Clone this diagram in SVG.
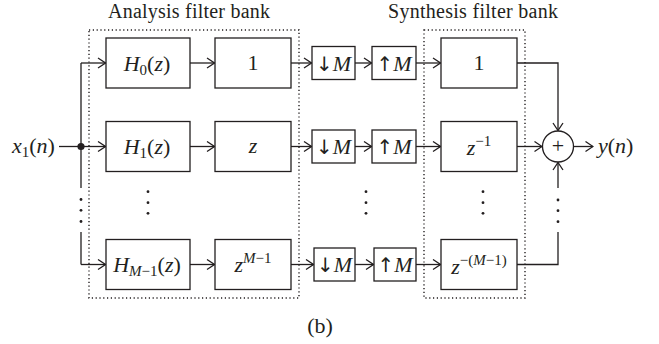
<svg xmlns="http://www.w3.org/2000/svg" width="659" height="344" viewBox="0 0 659 344">
<style>
.ln{fill:none;stroke:#231f20;stroke-width:1.3}
.bx{fill:#fff;stroke:#231f20;stroke-width:1.3}
.dt{fill:none;stroke:#231f20;stroke-width:1.4;stroke-dasharray:1.2 2.6}
.t{font-family:"Liberation Serif","DejaVu Serif",serif;font-size:22px;fill:#231f20}
.h{font-family:"Liberation Serif","DejaVu Serif",serif;font-size:20px;fill:#231f20;text-anchor:middle}
.m{font-family:"Liberation Serif","DejaVu Serif",serif;font-size:22px;fill:#231f20;text-anchor:middle}
.i{font-style:italic}
.s{font-size:15px}
.a{font-family:"DejaVu Sans",sans-serif;font-size:20px}
</style>
<defs>
<marker id="ar" markerUnits="userSpaceOnUse" viewBox="0 0 9 12" refX="8.5" refY="6" markerWidth="9" markerHeight="12" orient="auto">
<path d="M1,1 L8.5,6 L1,11" fill="none" stroke="#231f20" stroke-width="1.3"/>
</marker>
</defs>
<rect width="659" height="344" fill="#fff"/>
<text class="h" x="189" y="18" textLength="162">Analysis filter bank</text>
<text class="h" x="473" y="18" textLength="170">Synthesis filter bank</text>
<rect id="analysis-bank" class="dt" x="89" y="30" width="210" height="268"/>
<rect id="synthesis-bank" class="dt" x="424" y="30" width="101" height="268"/>
<g id="connectors">
<path class="ln" d="M59,146.5 H81"/>
<path class="ln" d="M81,63 V188 M81,232 V264.5"/>
<path class="ln" d="M81,63 H105.5" marker-end="url(#ar)"/>
<path class="ln" d="M81,146.5 H105.5" marker-end="url(#ar)"/>
<path class="ln" d="M81,264.5 H105.5" marker-end="url(#ar)"/>
<path class="ln" d="M190,63 H214.5" marker-end="url(#ar)"/>
<path class="ln" d="M190,146.5 H214.5" marker-end="url(#ar)"/>
<path class="ln" d="M190,264.5 H214.5" marker-end="url(#ar)"/>
<path class="ln" d="M291,63 H311.5" marker-end="url(#ar)"/>
<path class="ln" d="M291,146.5 H311.5" marker-end="url(#ar)"/>
<path class="ln" d="M291,264.5 H313.5" marker-end="url(#ar)"/>
<path class="ln" d="M355,63 H371.5" marker-end="url(#ar)"/>
<path class="ln" d="M355,146.5 H371.5" marker-end="url(#ar)"/>
<path class="ln" d="M355,264.5 H373.5" marker-end="url(#ar)"/>
<path class="ln" d="M416,63 H440.5" marker-end="url(#ar)"/>
<path class="ln" d="M416,146.5 H440.5" marker-end="url(#ar)"/>
<path class="ln" d="M416,264.5 H440.5" marker-end="url(#ar)"/>
<path class="ln" d="M517,63 H558 V130.5" marker-end="url(#ar)"/>
<path class="ln" d="M517,146.5 H542" marker-end="url(#ar)"/>
<path class="ln" d="M517,264.5 H558 V232"/>
<path class="ln" d="M558,188 V162.5" marker-end="url(#ar)"/>
<path class="ln" d="M574,146.5 H593" marker-end="url(#ar)"/>
</g>
<g id="dots" fill="#231f20">
<circle cx="81" cy="199.5" r="1.4"/><circle cx="81" cy="210.3" r="1.4"/><circle cx="81" cy="221.5" r="1.4"/>
<circle cx="148" cy="191.7" r="1.4"/><circle cx="148" cy="202.7" r="1.4"/><circle cx="148" cy="213.3" r="1.4"/>
<circle cx="366" cy="191.7" r="1.4"/><circle cx="366" cy="202.7" r="1.4"/><circle cx="366" cy="213.3" r="1.4"/>
<circle cx="483" cy="191.7" r="1.4"/><circle cx="483" cy="202.7" r="1.4"/><circle cx="483" cy="213.3" r="1.4"/>
<circle cx="558" cy="200" r="1.4"/><circle cx="558" cy="210.7" r="1.4"/><circle cx="558" cy="221.7" r="1.4"/>
</g>
<g id="input">
<text class="t" x="12" y="153"><tspan class="i">x</tspan><tspan class="s" dy="4">1</tspan><tspan dy="-4">(</tspan><tspan class="i">n</tspan>)</text>
<circle cx="81" cy="146.5" r="3.6" fill="#231f20"/>
</g>
<g id="H0"><rect class="bx" x="106" y="38" width="84" height="50"/><text class="m" x="147" y="70.5"><tspan class="i">H</tspan><tspan class="s" dy="4">0</tspan><tspan dy="-4">(</tspan><tspan class="i">z</tspan>)</text></g>
<g id="H1"><rect class="bx" x="106" y="121.5" width="84" height="50"/><text class="m" x="147" y="154"><tspan class="i">H</tspan><tspan class="s" dy="4">1</tspan><tspan dy="-4">(</tspan><tspan class="i">z</tspan>)</text></g>
<g id="HM1"><rect class="bx" x="106" y="239.5" width="84" height="50"/><text class="m" x="147" y="272"><tspan class="i">H</tspan><tspan class="s" dy="4"><tspan class="i">M</tspan>−1</tspan><tspan dy="-4">(</tspan><tspan class="i">z</tspan>)</text></g>
<g id="D0"><rect class="bx" x="215" y="38" width="76" height="50"/><text class="m" x="253" y="70">1</text></g>
<g id="D1"><rect class="bx" x="215" y="121.5" width="76" height="50"/><text class="m i" x="253" y="152.5">z</text></g>
<g id="DM1"><rect class="bx" x="215" y="239.5" width="76" height="50"/><text class="m" x="253" y="271.5"><tspan class="i">z</tspan><tspan class="s" dy="-9"><tspan class="i">M</tspan>−1</tspan></text></g>
<g id="down0"><rect class="bx" x="312" y="46.5" width="43" height="33"/><text class="m" x="333.5" y="70.5"><tspan class="a">↓</tspan><tspan class="i">M</tspan></text></g>
<g id="down1"><rect class="bx" x="312" y="130" width="43" height="33"/><text class="m" x="333.5" y="154"><tspan class="a">↓</tspan><tspan class="i">M</tspan></text></g>
<g id="downM1"><rect class="bx" x="314" y="248" width="41" height="33"/><text class="m" x="334.5" y="272"><tspan class="a">↓</tspan><tspan class="i">M</tspan></text></g>
<g id="up0"><rect class="bx" x="372" y="46.5" width="44" height="33"/><text class="m" x="394" y="70.5"><tspan class="a">↑</tspan><tspan class="i">M</tspan></text></g>
<g id="up1"><rect class="bx" x="372" y="130" width="44" height="33"/><text class="m" x="394" y="154"><tspan class="a">↑</tspan><tspan class="i">M</tspan></text></g>
<g id="upM1"><rect class="bx" x="374" y="248" width="42" height="33"/><text class="m" x="395" y="272"><tspan class="a">↑</tspan><tspan class="i">M</tspan></text></g>
<g id="F0"><rect class="bx" x="441" y="38" width="76" height="50"/><text class="m" x="479" y="70">1</text></g>
<g id="F1"><rect class="bx" x="441" y="121.5" width="76" height="50"/><text class="m" x="479" y="155"><tspan class="i">z</tspan><tspan class="s" dy="-9">−1</tspan></text></g>
<g id="FM1"><rect class="bx" x="441" y="239.5" width="76" height="50"/><text class="m" x="479" y="273.5"><tspan class="i">z</tspan><tspan class="s" dy="-9">−(<tspan class="i">M</tspan>−1)</tspan></text></g>
<g id="sum"><circle class="bx" cx="558" cy="146.5" r="15.5"/><text class="m" x="558" y="153">+</text></g>
<g id="output"><text class="t" x="598" y="153"><tspan class="i">y</tspan>(<tspan class="i">n</tspan>)</text></g>
<text class="m" x="320" y="333">(b)</text>
</svg>
